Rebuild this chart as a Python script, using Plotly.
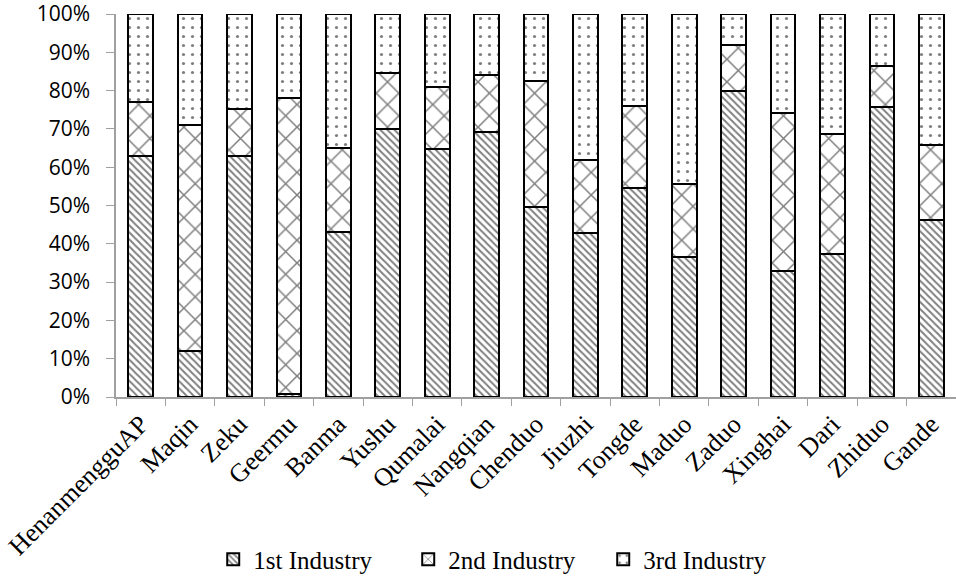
import plotly.graph_objects as go

regions = ["HenanmengguAP", "Maqin", "Zeku", "Geermu", "Banma", "Yushu", "Qumalai",
           "Nangqian", "Chenduo", "Jiuzhi", "Tongde", "Maduo", "Zaduo", "Xinghai",
           "Dari", "Zhiduo", "Gande"]
first_industry = [62.8, 12.1, 62.8, 0.7, 43.2, 70.1, 64.8, 69.2, 49.6, 42.9, 54.5,
                  36.6, 79.8, 32.9, 37.4, 75.8, 46.3]
second_industry = [14.3, 58.8, 12.4, 77.4, 21.8, 14.5, 16.2, 15.0, 32.8, 18.9, 21.4,
                   19.1, 12.0, 41.2, 31.3, 10.6, 19.4]
third_industry = [22.9, 29.1, 24.8, 21.9, 35.0, 15.4, 19.0, 15.8, 17.6, 38.2, 24.1,
                  44.3, 8.2, 25.9, 31.3, 13.6, 34.3]
series_names = ["1st Industry", "2nd Industry", "3rd Industry"]
tick_vals = [0, 10, 20, 30, 40, 50, 60, 70, 80, 90, 100]
tick_text = [f"{v}%" for v in tick_vals]

patterns = [
    dict(shape="\\", size=5, solidity=0.4),
    dict(shape="x", size=16, solidity=0.18),
    dict(shape=".", size=9, solidity=0.1),
]

fig = go.Figure()
for name, vals, pat in zip(series_names, [first_industry, second_industry, third_industry], patterns):
    fig.add_trace(go.Bar(
        x=regions, y=vals, name=name, width=0.5,
        marker=dict(color="white",
                    line=dict(color="black", width=2),
                    pattern=dict(fgcolor="black", bgcolor="white", fillmode="overlay", **pat)),
    ))

fig.update_layout(
    barmode="stack",
    width=956, height=578,
    margin=dict(l=116, r=0, t=14, b=181),
    plot_bgcolor="white", paper_bgcolor="white",
    showlegend=True,
    legend=dict(orientation="h", xref="container", yref="container",
                x=0.529, xanchor="center", y=0.032, yanchor="middle",
                font=dict(family="Liberation Serif", size=25, color="black"),
                itemwidth=30, entrywidth=150, traceorder="normal"),
    bargap=0.5,
)
fig.update_yaxes(range=[0, 100.001], tickvals=tick_vals, ticktext=tick_text,
                 showgrid=False, showline=True, linecolor="#a0a0a0", linewidth=1.5,
                 ticks="outside", ticklen=8, tickcolor="#a0a0a0",
                 ticklabeloverflow="allow", automargin=False, ticklabelstandoff=12,
                 tickfont=dict(family="Open Sans", size=21, color="black"), zeroline=False)
fig.update_xaxes(showgrid=False, showline=True, linecolor="#a0a0a0", linewidth=1.5,
                 ticks="outside", ticklen=7, tickcolor="#a0a0a0", tickson="boundaries",
                 tickangle=-45, automargin=False,
                 tickfont=dict(family="Liberation Serif", size=26, color="black"))

fig.write_html("out.html")
